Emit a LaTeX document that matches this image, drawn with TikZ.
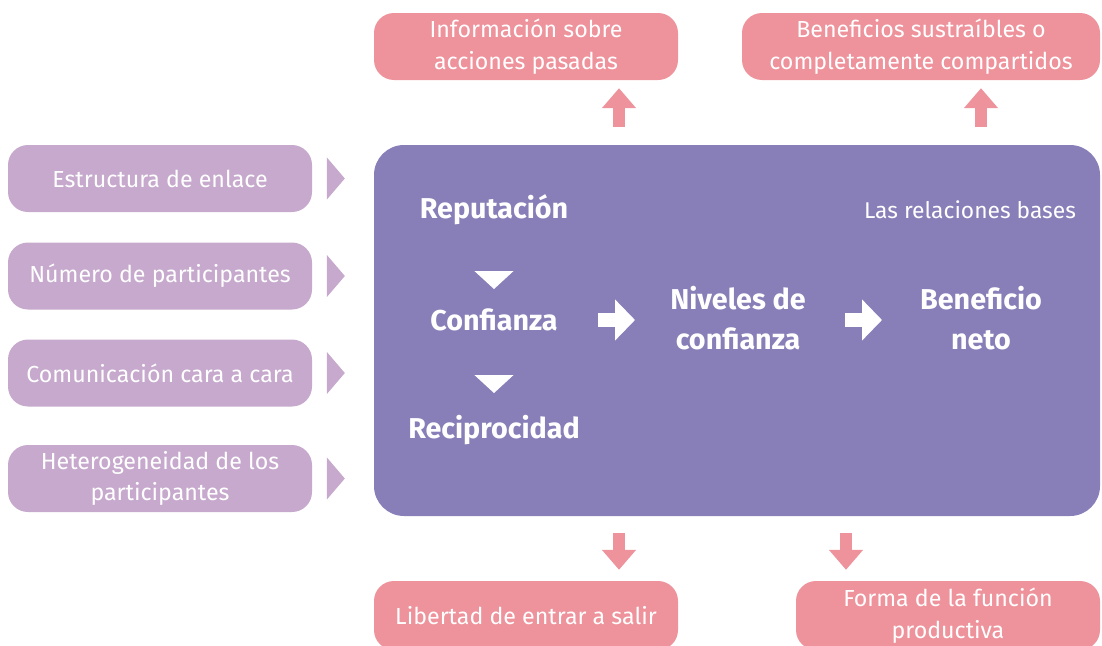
\documentclass[tikz,border=0pt]{standalone}
\usepackage{fontspec}
\setmainfont{Fira Sans}
\usetikzlibrary{positioning,arrows.meta}
\definecolor{rosa}{HTML}{EE929B}
\definecolor{lila}{HTML}{C6A9CD}
\definecolor{morado}{HTML}{887EB8}

\begin{document}
\begin{tikzpicture}[x=1pt,y=-1pt,node distance=110pt,
    font=\fontsize{23.2}{31.5}\selectfont,
    caja/.style={rounded corners=20pt, text=white, align=center, inner sep=0pt, minimum height=67pt},
    rosabox/.style={caja, fill=rosa},
    lilabox/.style={caja, fill=lila, minimum width=304pt},
    fuerte/.style={text=white, align=center, inner sep=0pt, font=\fontsize{28.7}{40}\selectfont\bfseries},
    flecha/.style={-{Triangle[width=33pt,length=20pt]}, line width=12pt, draw=rosa},
    blanca/.style={-{Triangle[width=40pt,length=20pt]}, line width=14pt, draw=white},
    punta/.style={-{Triangle[width=42pt,length=18pt]}, line width=1pt, draw=lila},
    bajada/.style={-{Triangle[width=39pt,length=18pt]}, line width=1pt, draw=white}]
				\useasboundingbox (0,0) rectangle (1102,645);
				\clip (0,0) rectangle (1102,645);

				% caja central
				\node[caja, fill=morado, rounded corners=30pt, minimum width=726pt, minimum height=371pt] (main) at (737,330.5) {};

				% cajas de arriba y de abajo
				\node[rosabox, minimum width=304pt] (info) at (526,46.5) {Información sobre\\acciones pasadas};
				\node[rosabox, minimum width=358pt] (bene) at (921,46.5) {Beneficios sustraíbles o\\completamente compartidos};
				\node[rosabox, minimum width=304pt, minimum height=69pt] (lib) at (526,615.5) {Libertad de entrar a salir};
				\node[rosabox, minimum width=304pt, minimum height=69pt] (forma) at (948,615.5) {Forma de la función\\productiva};

				% cajas de la izquierda
				\node[lilabox] (e1) at (160,178.5) {Estructura de enlace};
				\node[lilabox] (e2) at (160,276) {Número de participantes};
				\node[lilabox] (e3) at (160,373) {Comunicación cara a cara};
				\node[lilabox] (e4) at (160,478.5) {Heterogeneidad de los\\participantes};

				% dentro de la caja central
				\node[fuerte] (rep) at (494,210) {Reputación};
				\node[fuerte, below of=rep] (conf) {Confianza};
				\node[fuerte, below of=conf] (rec) {Reciprocidad};
				\node[fuerte] (niv) at (738,318) {Niveles de\\confianza};
				\node[fuerte] (ben) at (981,318) {Beneficio\\neto};
				\node[text=white, inner sep=0pt, font=\fontsize{22.8}{26}\selectfont] (base) at (970,210) {Las relaciones bases};

				\coordinate (a1) at (619,0);
				\coordinate (a2) at (981,0);
				\coordinate (a3) at (846,0);

				\foreach \n in {e1,e2,e3,e4}
					\draw[punta, shorten <=15pt, shorten >=29pt] (\n) -- (main.west |- \n);

				\draw[bajada, shorten <=62pt, shorten >=31pt] (rep.center) -- (conf.center);
				\draw[bajada, shorten <=55pt, shorten >=37pt] (conf.center) -- (rec.center);
				\draw[blanca, shorten <=104pt, shorten >=103pt] (conf.center) -- (conf.center -| niv.center);
				\draw[blanca, shorten <=107pt, shorten >=99pt] (conf.center -| niv.center) -- (conf.center -| ben.center);

				\draw[flecha, shorten <=18pt, shorten >=8pt] (main.north -| a1) -- (info.south -| a1);
				\draw[flecha, shorten <=18pt, shorten >=8pt] (main.north -| a2) -- (bene.south -| a2);
				\draw[flecha, shorten <=17pt, shorten >=11pt] (main.south -| a1) -- (lib.north -| a1);
				\draw[flecha, shorten <=17pt, shorten >=11pt] (main.south -| a3) -- (forma.north -| a3);
\end{tikzpicture}
\end{document}
